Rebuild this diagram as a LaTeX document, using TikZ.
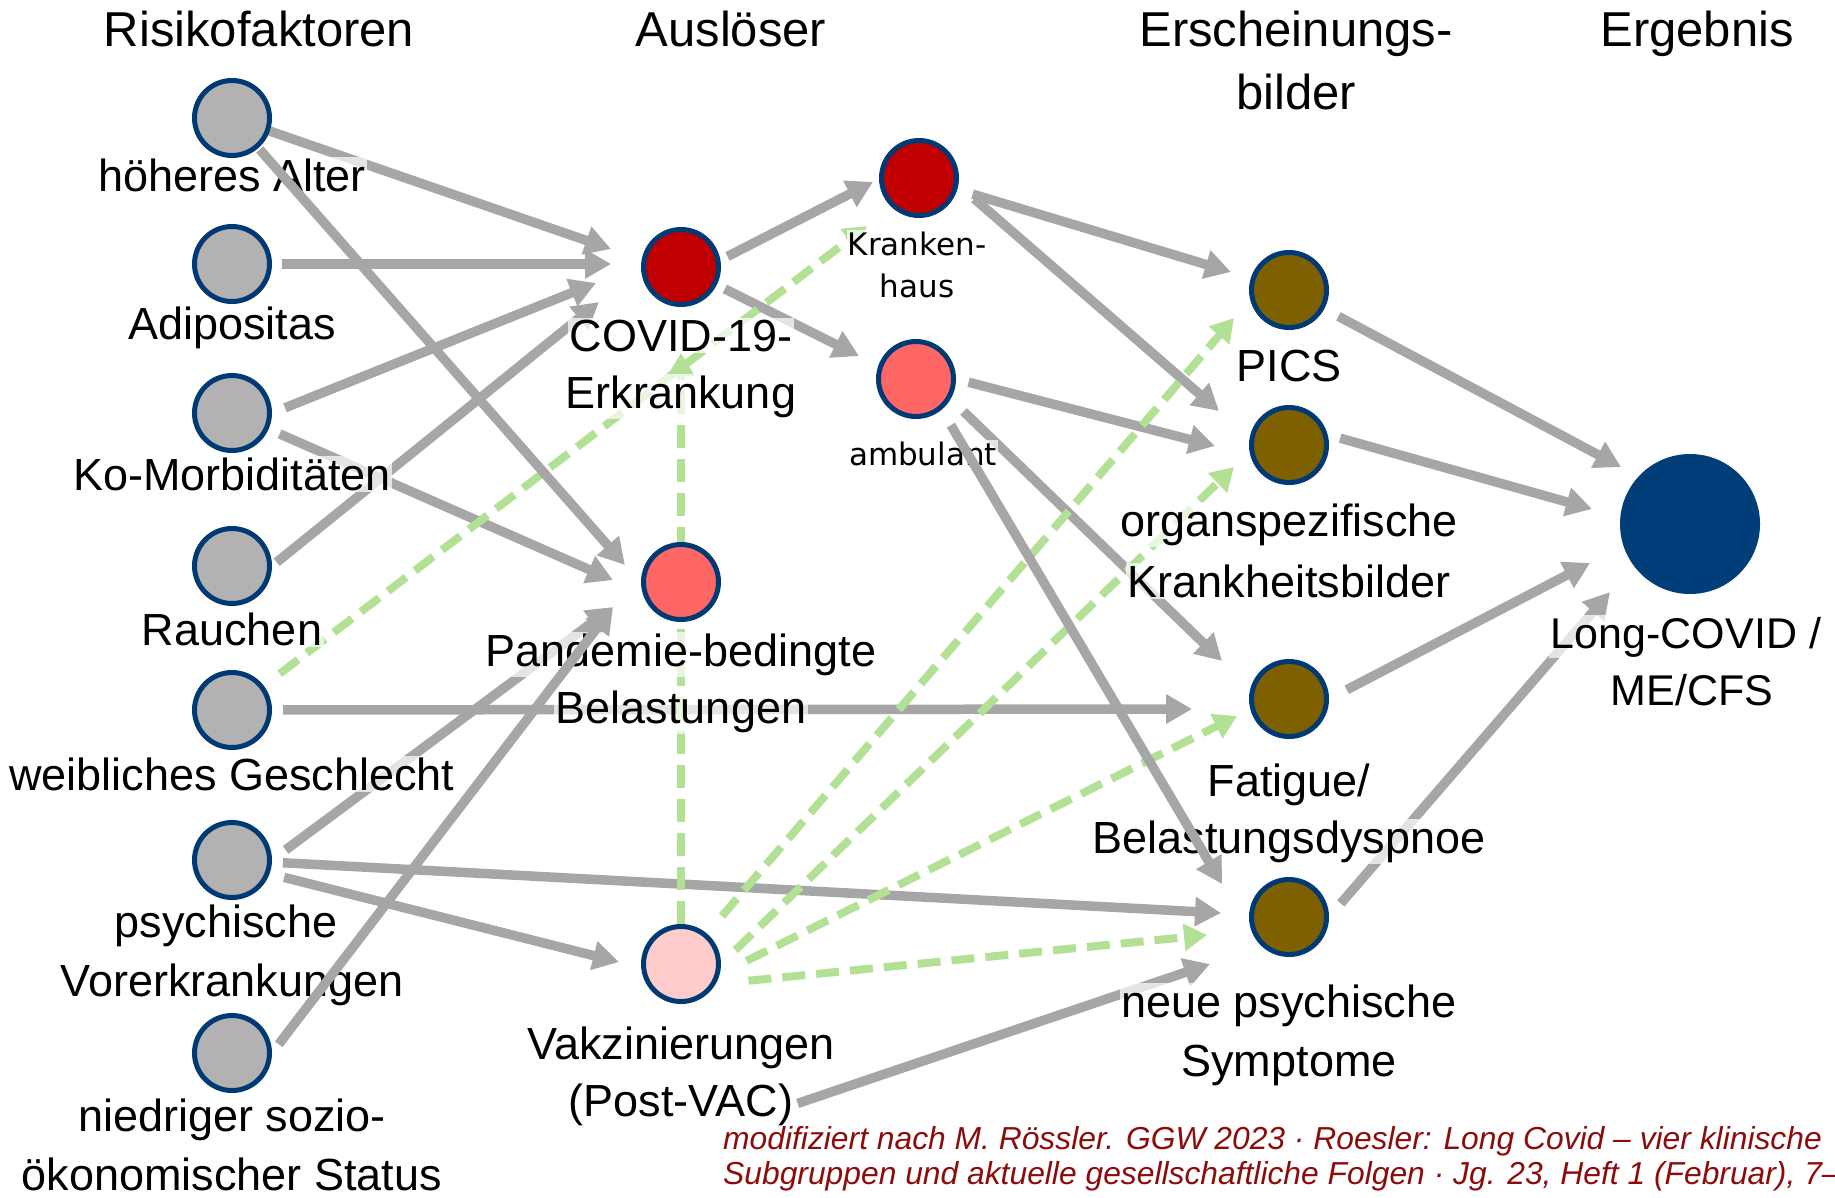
\documentclass[tikz,border=0pt]{standalone}
\usepackage{fontspec}
\setmainfont{Liberation Sans}
\newfontfamily\smallfont{DejaVu Sans}
\usetikzlibrary{arrows.meta}
\definecolor{arrgray}{RGB}{166,166,166}
\definecolor{dashgreen}{RGB}{178,224,148}
\definecolor{navyline}{RGB}{0,58,116}
\definecolor{longblue}{RGB}{0,61,121}
\definecolor{grayfill}{RGB}{178,178,178}
\definecolor{deepred}{RGB}{192,0,0}
\definecolor{salmonred}{RGB}{255,102,102}
\definecolor{lightpink}{RGB}{255,204,204}
\definecolor{olivebrown}{RGB}{127,96,0}
\definecolor{footred}{RGB}{140,12,12}
\pgfdeclarelayer{arrbg}
\pgfdeclarelayer{lbls}
\pgfdeclarelayer{arrtop}
\pgfsetlayers{arrbg,lbls,arrtop,main}
\begin{document}
\begin{tikzpicture}[x=1pt,y=-1pt,
  dot/.style={circle, draw=navyline, line width=5pt, minimum size=75pt, inner sep=0pt},
  lbl/.style={font=\fontsize{45}{54}\selectfont, anchor=base, inner sep=1.5pt, fill=white, fill opacity=0.7, text opacity=1},
  hdr/.style={font=\fontsize{49}{60}\selectfont, anchor=base, inner sep=0pt},
  sml/.style={font=\smallfont\fontsize{31}{40}\selectfont, anchor=base, inner sep=1pt, fill=white, fill opacity=0.7, text opacity=1},
  foot/.style={font=\fontsize{31.8}{37}\selectfont\itshape, text=footred, anchor=base west, inner sep=0pt},
  arr/.style={draw=arrgray, line width=9.5pt, -{Triangle[length=26pt,width=28pt]}},
  garr/.style={draw=dashgreen, line width=8pt, dash pattern=on 23pt off 11pt, -{Triangle[length=23pt,width=26pt]}}
]
\useasboundingbox (0,0) rectangle (1835,1197);
\clip (0,0) rectangle (1835,1197);

% ---------- nodes ----------
\node[dot, fill=grayfill] (alter) at (232,118) {};
\node[dot, fill=grayfill] (adip) at (232,264) {};
\node[dot, fill=grayfill] (komorb) at (232,413) {};
\node[dot, fill=grayfill] (rauch) at (232,566) {};
\node[dot, fill=grayfill] (weibl) at (232,710) {};
\node[dot, fill=grayfill] (psych) at (232,860) {};
\node[dot, fill=grayfill] (sozio) at (232,1053) {};
\node[dot, fill=deepred] (covid) at (681,267) {};
\node[dot, fill=salmonred] (pand) at (681,582) {};
\node[dot, fill=lightpink] (vak) at (681,964) {};
\node[dot, fill=deepred] (kh) at (919,178) {};
\node[dot, fill=salmonred] (amb) at (916,379) {};
\node[dot, fill=olivebrown] (pics) at (1289,290) {};
\node[dot, fill=olivebrown] (organ) at (1289,445) {};
\node[dot, fill=olivebrown] (fat) at (1289,699) {};
\node[dot, fill=olivebrown] (neue) at (1289,917) {};
\node[circle, fill=longblue, minimum size=140pt, inner sep=0pt] (long) at (1690,524) {};

% ---------- headers ----------
\node[hdr] (h1) at (259,46) {Risikofaktoren};
\node[hdr] (h2) at (731,46) {Auslöser};
\node[hdr] (h3a) at (1296,46) {Erscheinungs-};
\node[hdr] (h3b) at (1296,109) {bilder};
\node[hdr] (h4) at (1697,46) {Ergebnis};

% ---------- labels ----------
\begin{pgfonlayer}{lbls}
\node[lbl] (alterl) at (232,191) {höheres Alter};
\node[lbl] (adipl) at (232,339) {Adipositas};
\node[lbl] (komorbl) at (232,490) {Ko-Morbiditäten};
\node[lbl] (rauchl) at (232,645) {Rauchen};
\node[lbl] (weibll) at (232,790) {weibliches Geschlecht};
\node[lbl] (psychl1) at (226,937) {psychische};
\node[lbl] (psychl2) at (232,996) {Vorerkrankungen};
\node[lbl] (soziol1) at (232,1131) {niedriger sozio-};
\node[lbl] (soziol2) at (232,1190) {ökonomischer Status};
\node[lbl] (covidl1) at (681,351) {COVID-19-};
\node[lbl] (covidl2) at (681,408) {Erkrankung};
\node[lbl] (pandl1) at (681,666) {Pandemie-bedingte};
\node[lbl] (pandl2) at (681,723) {Belastungen};
\node[lbl] (vakl1) at (681,1059) {Vakzinierungen};
\node[lbl] (vakl2) at (681,1116) {(Post-VAC)};
\node[sml] (khl1) at (917,255) {Kranken-};
\node[sml] (khl2) at (917,297) {haus};
\node[sml] (ambl) at (923,465) {ambulant};
\node[lbl] (picsl) at (1289,381) {PICS};
\node[lbl] (organl1) at (1289,536) {organspezifische};
\node[lbl] (organl2) at (1289,597) {Krankheitsbilder};
\node[lbl] (fatl1) at (1289,796) {Fatigue/};
\node[lbl] (fatl2) at (1289,853) {Belastungsdyspnoe};
\node[lbl] (neuel1) at (1289,1017) {neue psychische};
\node[lbl] (neuel2) at (1289,1076) {Symptome};
\node[lbl, font=\fontsize{43}{52}\selectfont] (longl1) at (1686,648) {Long-COVID /};
\node[lbl, font=\fontsize{43}{52}\selectfont] (longl2) at (1692,705) {ME/CFS};
\end{pgfonlayer}

% ---------- arrow tips ----------
\coordinate (t1) at (611,249);
\coordinate (t2) at (625,565);
\coordinate (t3) at (611,264);
\coordinate (t4) at (596,283);
\coordinate (t5) at (613,580);
\coordinate (t6) at (599,302);
\coordinate (t7) at (1192,709);
\coordinate (t8) at (613,607);
\coordinate (t9) at (1221,913);
\coordinate (t10) at (619,962);
\coordinate (t12) at (1210,964);
\coordinate (t13) at (873,182);
\coordinate (t14) at (859,356);
\coordinate (t15) at (1231,272);
\coordinate (t16) at (1219,411);
\coordinate (t17) at (1215,446);
\coordinate (t18) at (1222,661);
\coordinate (t19) at (1222,884);
\coordinate (t20) at (1621,467);
\coordinate (t21) at (1592,509);
\coordinate (t22) at (1590,563);
\coordinate (t23) at (1610,592);
\coordinate (g1) at (867,226);
\coordinate (g2) at (681,353);
\coordinate (g3) at (1234,318);
\coordinate (g4) at (1234,467);
\coordinate (g5) at (1237,716);
\coordinate (g6) at (1207,935);

% ---------- background arrows ----------
\begin{pgfonlayer}{arrbg}
\draw[arr, shorten <=0pt] (alter) -- (t1);
\draw[arr, shorten <=10pt] (adip) -- (t3);
\draw[arr, shorten <=14pt] (komorb.east) -- (t4);
\draw[arr, shorten <=12pt] (komorb) -- (t5);
\draw[arr, shorten <=6pt] (rauch.east) -- (t6);
\draw[arr, shorten <=11pt] (weibl) -- (t7);
\draw[arr, shorten <=17pt] (psych.east) -- (t8);
\draw[arr, shorten <=11pt] (psych) -- (t9);
\draw[arr, shorten <=15pt] (psych.-20) -- (t10);
\draw[arr, shorten <=3pt] (vakl2.east) -- (t12);
\draw[arr, shorten <=8pt] (covid.10) -- (t13);
\draw[arr, shorten <=9pt] (covid) -- (t14);
\draw[arr, shorten <=16pt] (kh) -- (t15);
\draw[arr, shorten <=21pt] (kh.-10) -- (t16);
\draw[arr, shorten <=13pt] (amb.east) -- (t17);
\draw[arr, shorten <=18pt] (amb.-30) -- (t18);
\draw[arr, shorten <=16pt] (pics) -- (t20);
\draw[arr, shorten <=13pt] (organ.15) -- (t21);
\draw[arr, shorten <=20pt] (fat.east) -- (t22);
\draw[arr, shorten <=18pt] (neue.east) -- (t23);
\draw[garr, shorten <=20pt] (weibl) -- (g1);
\draw[garr, shorten <=0pt] (vak) -- (g2);
\draw[garr, shorten <=23pt] (vak) -- (g3);
\draw[garr, shorten <=20pt] (vak.east) -- (g4);
\draw[garr, shorten <=30pt] (vak.-15) -- (g5);
\draw[garr, shorten <=33pt] (vak.-30) -- (g6);
\end{pgfonlayer}

% ---------- arrows drawn over the labels ----------
\begin{pgfonlayer}{arrtop}
\draw[arr, shorten <=2pt] (alter) -- (t2);
\draw[arr, shorten <=11pt] (sozio.east) -- (t8);
\draw[arr, shorten <=18pt] (amb.-50) -- (t19);
\end{pgfonlayer}

% ---------- source note ----------
\node[foot] (f1) at (723,1149) {modifiziert nach M. Rössler. GGW 2023 · Roesler: Long Covid – vier klinische};
\node[foot] (f2) at (723,1184) {Subgruppen und aktuelle gesellschaftliche Folgen · Jg. 23, Heft 1 (Februar), 7–};
\end{tikzpicture}
\end{document}
